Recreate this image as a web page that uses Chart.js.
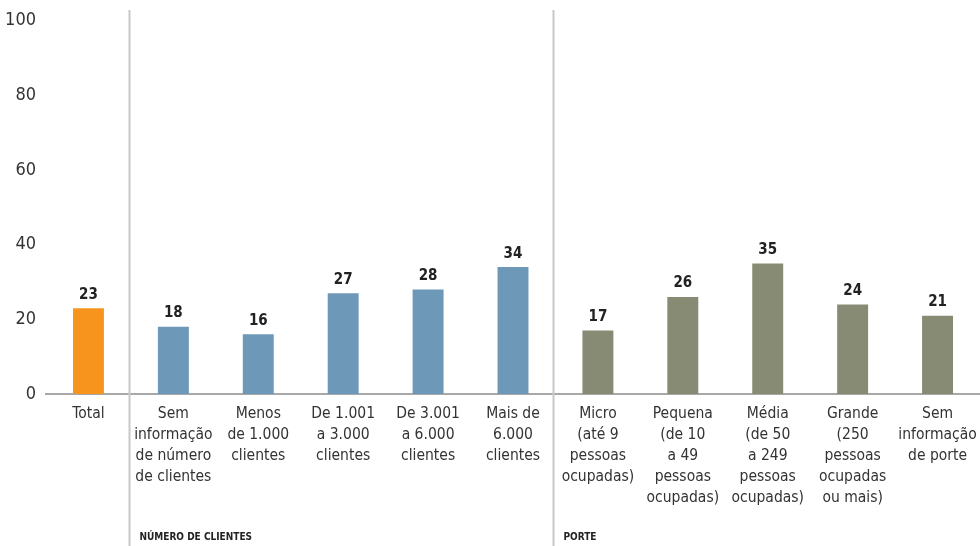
<!DOCTYPE html>
<html>
<head>
<meta charset="utf-8">
<script src="https://cdn.jsdelivr.net/npm/chart.js@4/dist/chart.umd.min.js"></script>
<style>
  html, body { margin: 0; padding: 0; background: #fff; }
  #wrap { width: 980px; height: 546px; position: relative; }
</style>
</head>
<body>
<div id="wrap"><canvas id="chart" width="980" height="546"></canvas></div>
<script>
const categories = [
  ['Total'],
  ['Sem', 'informação', 'de número', 'de clientes'],
  ['Menos', 'de 1.000', 'clientes'],
  ['De 1.001', 'a 3.000', 'clientes'],
  ['De 3.001', 'a 6.000', 'clientes'],
  ['Mais de', '6.000', 'clientes'],
  ['Micro', '(até 9', 'pessoas', 'ocupadas)'],
  ['Pequena', '(de 10', 'a 49', 'pessoas', 'ocupadas)'],
  ['Média', '(de 50', 'a 249', 'pessoas', 'ocupadas)'],
  ['Grande', '(250', 'pessoas', 'ocupadas', 'ou mais)'],
  ['Sem', 'informação', 'de porte']
];
const values = [23, 18, 16, 27, 28, 34, 17, 26, 35, 24, 21];
const groupNames = ['NÚMERO DE CLIENTES', 'PORTE'];
const groupStarts = [1, 6]; // index of first category in each group
const yTicks = [0, 20, 40, 60, 80, 100];

const FONT = '"Liberation Sans Narrow", "DejaVu Sans Condensed", "Roboto", sans-serif';
const barColors = values.map((v, i) => i === 0 ? '#f7941d' : (i < 6 ? '#6e98b8' : '#878b73'));

// value above each bar
const valueLabels = {
  id: 'valueLabels',
  afterDatasetsDraw(chart) {
    const ctx = chart.ctx;
    const meta = chart.getDatasetMeta(0);
    ctx.save();
    ctx.font = 'bold 15px ' + FONT;
    ctx.fillStyle = '#222';
    ctx.textAlign = 'center';
    ctx.textBaseline = 'bottom';
    meta.data.forEach((bar, i) => {
      ctx.fillText(String(values[i]), bar.x, bar.y - 6);
    });
    ctx.restore();
  }
};

// vertical separators and group titles
const groups = {
  id: 'groups',
  afterDraw(chart) {
    const ctx = chart.ctx;
    const x = chart.scales.x;
    ctx.save();
    groupStarts.forEach((start, g) => {
      const px = Math.round((x.getPixelForValue(start - 1) + x.getPixelForValue(start)) / 2) - 1.5;
      ctx.strokeStyle = '#c8c8c8';
      ctx.lineWidth = 2;
      ctx.beginPath();
      ctx.moveTo(px, 10);
      ctx.lineTo(px, chart.height);
      ctx.stroke();
      ctx.font = 'bold 10px ' + FONT;
      ctx.fillStyle = '#222';
      ctx.textAlign = 'left';
      ctx.textBaseline = 'middle';
      ctx.fillText(groupNames[g], px + 10, 537);
    });
    ctx.restore();
  }
};

new Chart(document.getElementById('chart'), {
  type: 'bar',
  data: {
    labels: categories,
    datasets: [{
      data: values,
      backgroundColor: barColors,
      barPercentage: 0.45,
      categoryPercentage: 0.81
    }]
  },
  options: {
    responsive: false,
    animation: false,
    layout: { padding: { top: 19, right: 0, left: 0, bottom: 0 } },
    plugins: { legend: { display: false }, tooltip: { enabled: false } },
    scales: {
      y: {
        min: 0,
        max: 100,
        afterBuildTicks(scale) { scale.ticks = yTicks.map(v => ({ value: v })); },
        afterFit(scale) { scale.width = 46; },
        grid: { display: false, drawTicks: false },
        border: { display: false },
        ticks: { color: '#333', padding: 10, font: { family: FONT, size: 18 } }
      },
      x: {
        afterFit(scale) {
          scale.height = 152;
          scale.paddingLeft = 0;
          scale.paddingRight = 0;
        },
        grid: { display: false, drawTicks: false },
        border: { display: true, color: '#a8a8a8', width: 2 },
        ticks: {
          color: '#333',
          padding: 9,
          autoSkip: false,
          maxRotation: 0,
          font: { family: FONT, size: 15.5, lineHeight: 1.36 }
        }
      }
    }
  },
  plugins: [valueLabels, groups]
});
</script>
</body>
</html>
